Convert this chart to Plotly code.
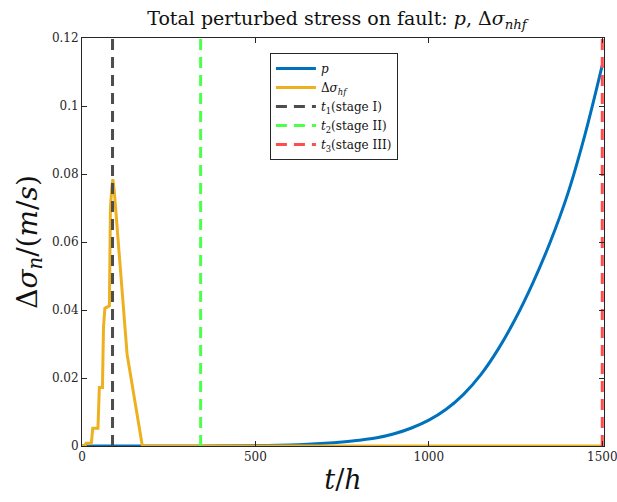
import plotly.graph_objects as go

# Blue curve p(t)
p_t = [0, 100, 200, 300, 400, 500, 600, 650, 700, 750, 800, 850, 900, 950, 1000, 1050, 1100,
       1150, 1200, 1250, 1300, 1350, 1400, 1450, 1500]
p_v = [0, 0, 0, 0, 0.00005, 0.00012, 0.0003, 0.0005, 0.0008, 0.0012, 0.0017, 0.0024,
       0.0036, 0.0053, 0.0076, 0.0108, 0.0152, 0.0210, 0.0285, 0.0375, 0.0480, 0.0600,
       0.0740, 0.0915, 0.112]

# Orange curve Δσ_hf(t)
s_t = [0, 8, 12, 27, 31, 46, 50, 59, 62, 66, 79, 82, 86, 89, 93, 110, 130, 174, 1500]
s_v = [0, 0, 0.0008, 0.0008, 0.0052, 0.0052, 0.0172, 0.0172, 0.035, 0.0405, 0.0412,
       0.070, 0.076, 0.0785, 0.075, 0.052, 0.027, 0, 0]

# Stage times
t_stage = [88, 342, 1500]
stage_names = ["<i>t</i><sub>1</sub>(stage I)", "<i>t</i><sub>2</sub>(stage II)",
               "<i>t</i><sub>3</sub>(stage III)"]
stage_colors = ["#4d4d4d", "#4dff4d", "#ff4d4d"]
y_lim = [0, 0.12]

FONT = "DejaVu Serif, Liberation Serif, serif"

fig = go.Figure()
fig.add_trace(go.Scatter(x=p_t, y=p_v, mode="lines", name="<i>p</i>",
                         line=dict(color="#0072BD", width=3, shape="spline", smoothing=1.0)))
fig.add_trace(go.Scatter(x=s_t, y=s_v, mode="lines", name="Δ<i>σ</i><sub><i>hf</i></sub>",
                         line=dict(color="#EDB120", width=3)))
for t, n, c in zip(t_stage, stage_names, stage_colors):
    fig.add_trace(go.Scatter(x=[t, t], y=y_lim, mode="lines", name=n,
                             line=dict(color=c, width=3, dash="11px,7px")))

fig.update_layout(
    width=617, height=502,
    margin=dict(l=82, r=13, t=38, b=56, autoexpand=False),
    plot_bgcolor="white", paper_bgcolor="white",
    font=dict(family=FONT, size=12, color="#262626"),
    title=dict(text="Total perturbed stress on fault: <i>p</i>, Δ<i>σ</i><sub><i>nhf</i></sub>",
               x=337 / 617, xanchor="center", y=0.963, yanchor="middle",
               font=dict(family=FONT, size=19, color="#111111")),
    showlegend=True,
    legend=dict(x=0.36, y=0.963, xanchor="left", yanchor="top",
                bgcolor="white", bordercolor="#262626", borderwidth=1,
                font=dict(family=FONT, size=12, color="#111111"),
                tracegroupgap=0, itemwidth=40),
)
fig.update_xaxes(range=[0, 1505], tickvals=[0, 500, 1000, 1500],
                 ticktext=["0", "500", "1000", "1500"], ticklabeloverflow="allow",
                 automargin=False,
                 showgrid=False, zeroline=False, showline=True, linecolor="#262626",
                 linewidth=1, mirror="ticks", ticks="inside", ticklen=5, tickcolor="#262626",
                 title=dict(text="<i>t</i>/<i>h</i>", font=dict(family=FONT, size=27, color="#111111"),
                            standoff=6))
fig.update_yaxes(range=y_lim, tickvals=[0, 0.02, 0.04, 0.06, 0.08, 0.1, 0.12],
                 ticktext=["0", "0.02", "0.04", "0.06", "0.08", "0.1", "0.12"],
                 automargin=False,
                 showgrid=False, zeroline=False, showline=True, linecolor="#262626",
                 linewidth=1, mirror="ticks", ticks="inside", ticklen=5, tickcolor="#262626",
                 title=dict(text="Δ<i>σ</i><sub><i>n</i></sub>/(<i>m</i>/<i>s</i>)",
                            font=dict(family=FONT, size=28, color="#111111"), standoff=6))

fig.write_html("out.html")
